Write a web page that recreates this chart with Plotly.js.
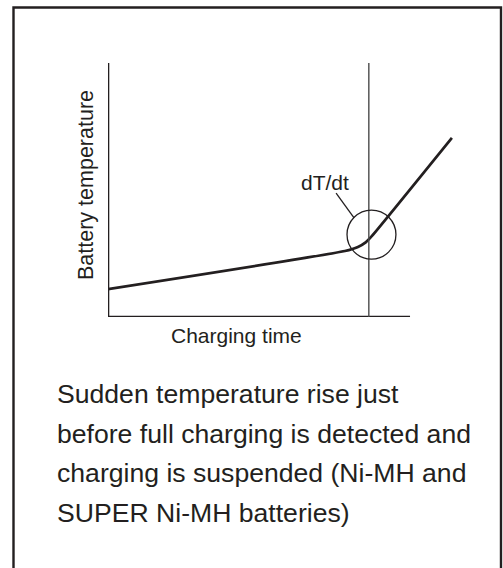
<!DOCTYPE html>
<html>
<head>
<meta charset="utf-8">
<script src="https://cdn.plot.ly/plotly-3.0.1.min.js"></script>
<style>
html, body { margin: 0; padding: 0; background: #ffffff; }
#chart { width: 503px; height: 568px; }
</style>
</head>
<body>
<div id="chart"></div>
<script>
// ---- data (schematic values) ----
var chargingTime = [0, 6.73, 7.10, 7.33, 7.50, 9.77];
var batteryTemp  = [1.10, 2.60, 2.76, 2.95, 3.19, 7.05];
var cutoffTime = 7.41;          // time where charging is suspended
var xAxisEnd = 8.58;            // end of drawn time axis
var circleX = [6.79, 8.18];     // dT/dt detection circle extent (time)
var circleY = [2.28, 4.21];     // dT/dt detection circle extent (temp)
var leaderX = [6.48, 6.99];
var leaderY = [4.88, 3.90];
var xTitle = "Charging time";
var yTitle = "Battery temperature";
var markLabel = "dT/dt";
var captionLines = [
  "Sudden temperature rise just",
  "before full charging is detected and",
  "charging is suspended (Ni-MH and",
  "SUPER Ni-MH batteries)"
];

// ---- layout geometry ----
var W = 503, H = 568;
var L = 108, R = 43, T = 63, B = 251;
var PW = W - L - R, PH = H - T - B;
function px(p) { return (p - L) / PW; }
function py(p) { return (H - B - p) / PH; }

var ink = "#231f20";
var font = "Liberation Sans, Arial, Helvetica, sans-serif";

var trace = {
  x: chargingTime,
  y: batteryTemp,
  type: "scatter",
  mode: "lines",
  line: { color: ink, width: 2.7, shape: "spline", smoothing: 0.5 },
  hoverinfo: "skip",
  showlegend: false
};

var shapes = [
  // box frame (open at the bottom)
  { type: "path", xref: "paper", yref: "paper",
    path: "M " + px(13.5) + " " + py(600) + " L " + px(13.5) + " " + py(7.5) +
          " L " + px(501) + " " + py(7.5) + " L " + px(501) + " " + py(600),
    line: { color: ink, width: 2.4 } },
  // y axis
  { type: "line", xref: "x", yref: "y", x0: 0, x1: 0, y0: 0, y1: 10,
    line: { color: ink, width: 2.6 } },
  // x axis
  { type: "line", xref: "x", yref: "y", x0: 0, x1: xAxisEnd, y0: 0, y1: 0,
    line: { color: ink, width: 2.6 } },
  // cut-off vertical line
  { type: "line", xref: "x", yref: "y", x0: cutoffTime, x1: cutoffTime, y0: 0, y1: 10,
    line: { color: "#4a4a4a", width: 1.4 } },
  // circle
  { type: "circle", xref: "x", yref: "y",
    x0: circleX[0], x1: circleX[1], y0: circleY[0], y1: circleY[1],
    line: { color: ink, width: 1.3 } },
  // leader line
  { type: "line", xref: "x", yref: "y",
    x0: leaderX[0], x1: leaderX[1], y0: leaderY[0], y1: leaderY[1],
    line: { color: ink, width: 1.3 } }
];

var annotations = [
  { text: markLabel, xref: "x", yref: "y", x: 6.16, y: 5.31,
    showarrow: false, xanchor: "center", yanchor: "middle",
    font: { family: font, size: 21, color: ink } },
  { text: xTitle, xref: "paper", yref: "paper", x: px(236), y: py(335),
    showarrow: false, xanchor: "center", yanchor: "middle",
    font: { family: font, size: 21, color: ink } },
  { text: yTitle, xref: "paper", yref: "paper", x: px(86), y: py(185),
    showarrow: false, xanchor: "center", yanchor: "middle", textangle: -90,
    font: { family: font, size: 21.5, color: ink } }
];
var captionY = [394, 433.5, 473, 512.5];
captionLines.forEach(function (t, i) {
  annotations.push({
    text: t, xref: "paper", yref: "paper", x: px(55), y: py(captionY[i]),
    showarrow: false, xanchor: "left", yanchor: "middle",
    font: { family: font, size: 26.6, color: ink }
  });
});

var layout = {
  width: W, height: H, autosize: false,
  margin: { l: L, r: R, t: T, b: B, pad: 0 },
  paper_bgcolor: "#ffffff", plot_bgcolor: "rgba(0,0,0,0)",
  xaxis: { range: [0, 10], visible: false, fixedrange: true },
  yaxis: { range: [0, 10], visible: false, fixedrange: true },
  shapes: shapes,
  annotations: annotations,
  showlegend: false
};

Plotly.newPlot("chart", [trace], layout, { displayModeBar: false, staticPlot: true });
</script>
</body>
</html>
